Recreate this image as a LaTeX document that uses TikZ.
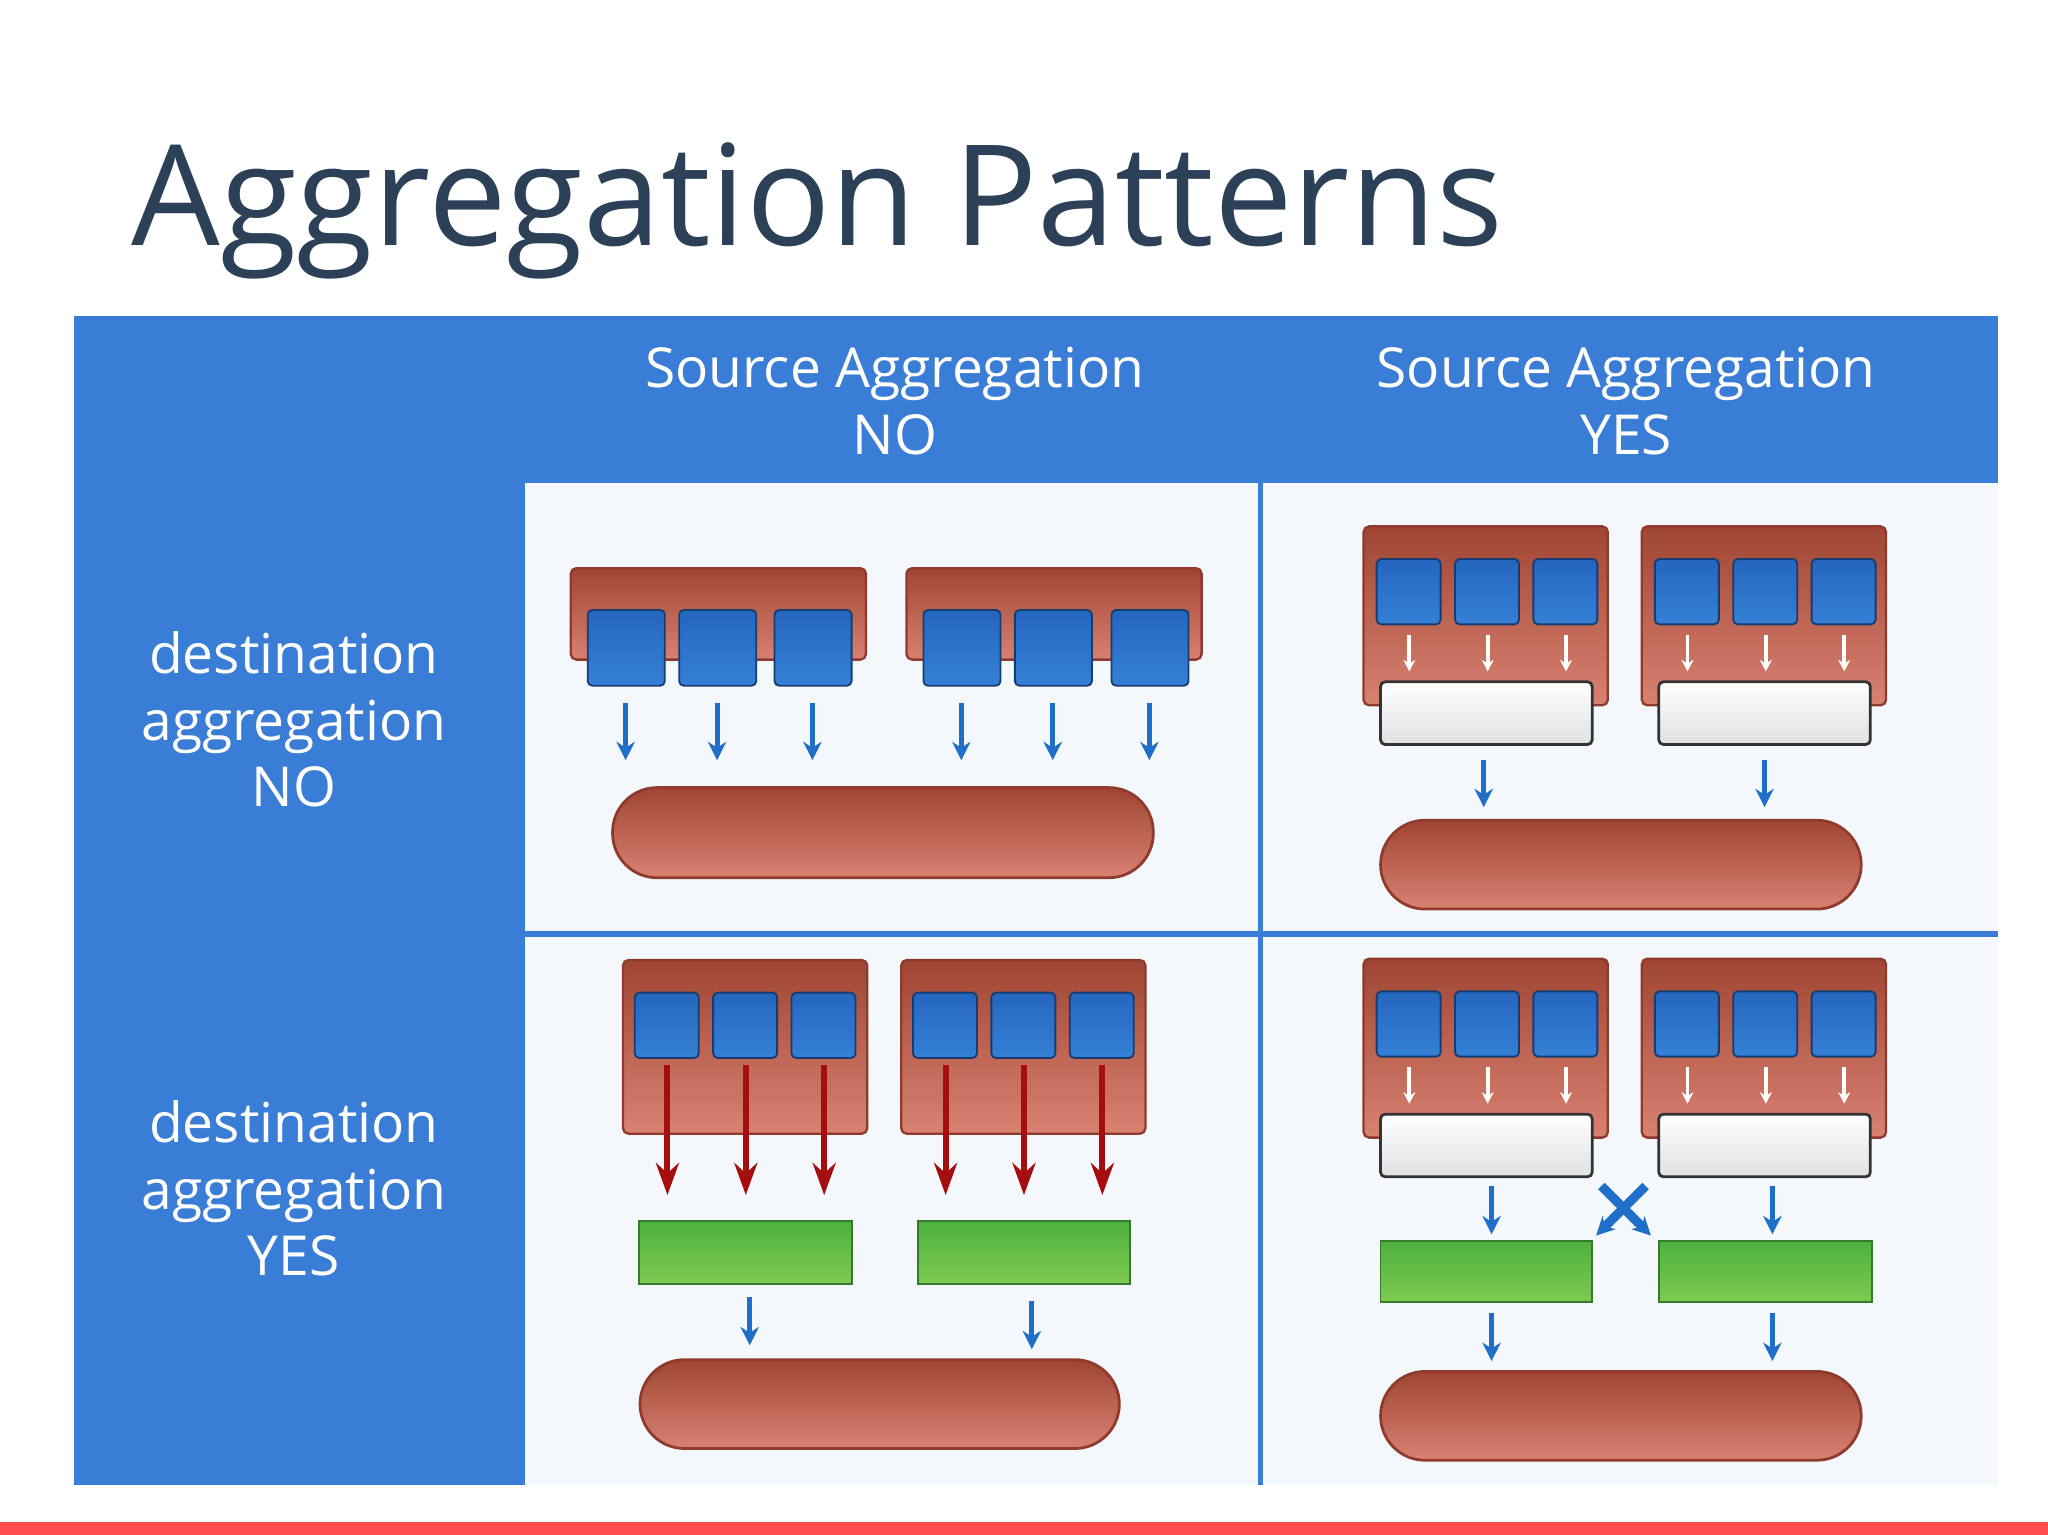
\documentclass[tikz,border=0pt]{standalone}
\usepackage{fontspec}
\setmainfont{Open Sans}
\usetikzlibrary{arrows.meta}
\definecolor{panel}{HTML}{3A7DD6}
\definecolor{cellbg}{HTML}{F4F8FC}
\definecolor{titlec}{HTML}{2C4057}
\definecolor{arrb}{HTML}{1F6FC8}
\definecolor{darkr}{HTML}{A50E0E}
\definecolor{rtop}{HTML}{A04533}
\definecolor{rbot}{HTML}{D98272}
\definecolor{rdraw}{HTML}{8E3A2C}
\definecolor{btop}{HTML}{2566BE}
\definecolor{bbot}{HTML}{3580D6}
\definecolor{gtop}{HTML}{4DB03E}
\definecolor{gbot}{HTML}{7ECB52}
\tikzset{
 px/.style={x=0.01cm,y=-0.01cm},
 redbox/.style={draw=rdraw,line width=0.5pt,rounded corners=1.2pt,top color=rtop,bottom color=rbot,inner sep=0},
 pill/.style={draw=rdraw,line width=0.6pt,rounded corners=0.34cm,top color=rtop,bottom color=rbot,inner sep=0},
 bsq/.style={draw=btop!60!black,line width=0.4pt,rounded corners=1pt,top color=btop,bottom color=bbot,inner sep=0},
 wbox/.style={draw=black!80,line width=0.6pt,rounded corners=1pt,top color=white,bottom color=black!12,inner sep=0},
 gbox/.style={draw=gtop!70!black,line width=0.4pt,top color=gtop,bottom color=gbot,inner sep=0},
 barr/.style={draw=arrb,line width=1.1pt,-{Stealth[length=4pt,width=4pt]}},
 warr/.style={draw=white,line width=0.8pt,-{Stealth[length=2.5pt,width=2.6pt]}},
 rarr/.style={draw=darkr,line width=1.3pt,-{Stealth[length=7pt,width=5pt]}},
 hdr/.style={text=white,font=\fontsize{12}{14.5}\selectfont,align=center},
}
\newcommand{\bx}[6]{\path[#1] (#3,#4) rectangle (#5,#6) node[pos=0.5,inner sep=0] (#2) {};}
\begin{document}
\begin{tikzpicture}[px]
\useasboundingbox (0,0) rectangle (1568,1175);
\fill[white] (0,0) rectangle (1568,1175);
\node[anchor=base west,text=titlec,inner sep=0,font=\fontsize{30.5}{36}\selectfont] (title) at (100,188) {Aggregation Patterns};
\fill[panel] (57,242) rectangle (1530,1137);
\fill[cellbg] (402,370) rectangle (1530,1137);
\draw[panel,line width=1.2pt] (965,370) -- (965,1137);
\draw[panel,line width=1.2pt] (402,715) -- (1530,715);
\fill[red!70!pink!90!white] (0,1165) rectangle (1568,1175);
\node[hdr] (h1) at (685,307) {Source Aggregation\\NO};
\node[hdr] (h2) at (1245,307) {Source Aggregation\\YES};
\node[hdr] (r1) at (225,551) {destination\\aggregation\\NO};
\node[hdr] (r2) at (225,910) {destination\\aggregation\\YES};
% Cell TL
\bx{redbox}{a1}{437}{435}{663}{505}
\bx{redbox}{a2}{694}{435}{920}{505}
\foreach \x/\n in {450/1,520/2,593/3,707/4,777/5,851/6}{
  \path[bsq] (\x,467) rectangle ++(59,58);
  \coordinate (as\n) at ({\x+29},538);
  \coordinate (ae\n) at ({\x+29},582);
  \draw[barr] (as\n) -- (ae\n);}
\bx{pill}{ap}{469}{603}{883}{672}
% Cell TR and BR
\foreach \c/\dy in {b/0,d/331}{
 \foreach \bxl/\k in {1044/1,1257/2}{
  \path[redbox] (\bxl,403+\dy) rectangle ++(187,137) node[pos=.5] (\c r\k) {};
  \foreach \i in {0,1,2}{
   \path[bsq] ({\bxl+10+\i*60},428+\dy) rectangle ++(49,50);
   \coordinate (\c w\k\i) at ({\bxl+35+\i*60},486+\dy);
   \coordinate (\c v\k\i) at ({\bxl+35+\i*60},514+\dy);
   \draw[warr] (\c w\k\i) -- (\c v\k\i);}
  \path[wbox] ({\bxl+13},522+\dy) rectangle ++(162,48) node[pos=.5] (\c x\k) {};
 }}
\coordinate (b1s) at (1136,582); \coordinate (b1e) at (1136,618);
\coordinate (b2s) at (1351,582); \coordinate (b2e) at (1351,618);
\draw[barr] (b1s) -- (b1e); \draw[barr] (b2s) -- (b2e);
\bx{pill}{bp}{1057}{628}{1425}{696}
% Cell BL
\foreach \bxl/\k in {477/1,690/2}{
  \path[redbox] (\bxl,735) rectangle ++(187,133) node[pos=.5] (cr\k) {};
  \foreach \i in {0,1,2}{
   \path[bsq] ({\bxl+9+\i*60},760) rectangle ++(49,50);
   \coordinate (cs\k\i) at ({\bxl+34+\i*60},815);
   \coordinate (ce\k\i) at ({\bxl+34+\i*60},915);
   \draw[rarr] (cs\k\i) -- (ce\k\i);}
}
\bx{gbox}{cg1}{489}{935}{652}{983}
\bx{gbox}{cg2}{703}{935}{865}{983}
\coordinate (c1s) at (574,993); \coordinate (c1e) at (574,1030);
\coordinate (c2s) at (790,996); \coordinate (c2e) at (790,1033);
\draw[barr] (c1s) -- (c1e); \draw[barr] (c2s) -- (c2e);
\bx{pill}{cp}{490}{1041}{857}{1109}
% Cell BR rest
\coordinate (d1s) at (1142,908); \coordinate (d1e) at (1142,945);
\coordinate (d2s) at (1357,908); \coordinate (d2e) at (1357,945);
\draw[barr] (d1s) -- (d1e); \draw[barr] (d2s) -- (d2e);
\coordinate (xa) at (1260,908); \coordinate (xb) at (1222,946);
\coordinate (xc) at (1226,908); \coordinate (xd) at (1264,946);
\draw[barr,line width=2pt] (xa) -- (xb);
\draw[barr,line width=2pt] (xc) -- (xd);
\bx{gbox}{dg1}{1057}{950}{1219}{997}
\bx{gbox}{dg2}{1270}{950}{1433}{997}
\coordinate (d3s) at (1142,1005); \coordinate (d3e) at (1142,1042);
\coordinate (d4s) at (1357,1005); \coordinate (d4e) at (1357,1042);
\draw[barr] (d3s) -- (d3e); \draw[barr] (d4s) -- (d4e);
\bx{pill}{dp}{1057}{1050}{1425}{1118}
\end{tikzpicture}
\end{document}
